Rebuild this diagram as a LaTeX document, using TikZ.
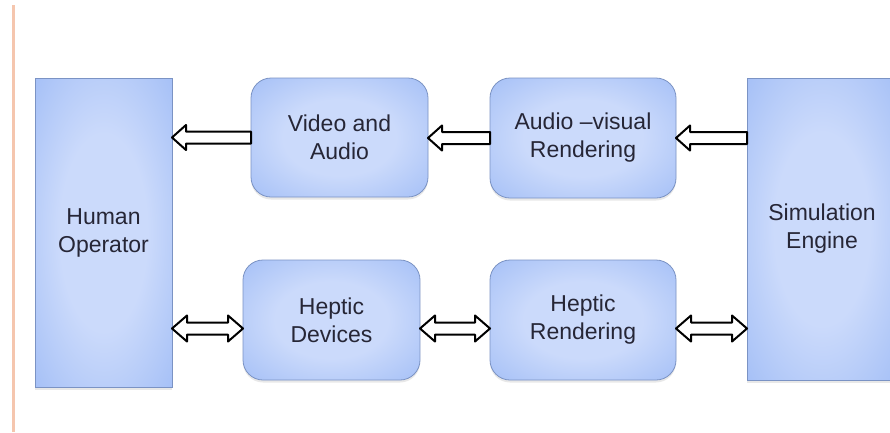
\documentclass[tikz,border=0pt]{standalone}
\usepackage{fontspec}
\setmainfont{Liberation Sans}
\usetikzlibrary{calc,shadows}
\definecolor{glowin}{HTML}{CBDAFB}
\definecolor{glowout}{HTML}{8AADF3}
\definecolor{boxline}{HTML}{7B93C4}
\definecolor{txt}{HTML}{262636}
\definecolor{edge}{HTML}{F5C6AE}
\pgfdeclareradialshading{boxglow}{\pgfpoint{0bp}{0bp}}{color(0bp)=(glowin); color(16bp)=(glowin); color(50bp)=(glowout); color(72bp)=(glowout)}
\tikzset{
  blk/.style={draw=boxline, line width=0.8pt, shading=boxglow, outer sep=0pt,
    inner sep=0pt, align=center, text=txt,
    font=\fontsize{23}{28}\selectfont,
    drop shadow={opacity=0.18, shadow xshift=0pt, shadow yshift=-2.5pt}},
  rblk/.style={blk, rounded corners=20pt},
  hollowL/.style={draw=black, line width=2pt, fill=white, line join=round,
    to path={let \p1=(\tikztostart), \p2=(\tikztotarget) in
      (\x1,\y1+6pt) -- (\x2+14pt,\y1+6pt) -- (\x2+14pt,\y1+12.5pt) -- (\x2,\y1)
      -- (\x2+14pt,\y1-12.5pt) -- (\x2+14pt,\y1-6pt) -- (\x1,\y1-6pt) -- cycle}},
  hollowD/.style={draw=black, line width=2pt, fill=white, line join=round,
    to path={let \p1=(\tikztostart), \p2=(\tikztotarget) in
      (\x1,\y1) -- (\x1+15pt,\y1+13pt) -- (\x1+15pt,\y1+6pt) -- (\x2-15pt,\y1+6pt)
      -- (\x2-15pt,\y1+13pt) -- (\x2,\y1) -- (\x2-15pt,\y1-13pt) -- (\x2-15pt,\y1-6pt)
      -- (\x1+15pt,\y1-6pt) -- (\x1+15pt,\y1-13pt) -- cycle}}
}
\begin{document}
\begin{tikzpicture}[x=1pt,y=-1pt]
\useasboundingbox[fill=white] (0,0) rectangle (890,432);
\draw[edge, line width=3pt] (13,5) -- (13,432);

\node[blk, minimum width=137pt, minimum height=309pt] (hum) at (103.5,232.5) {Human\\Operator};
\node[blk, minimum width=150pt, minimum height=302pt] (sim) at (822,229) {Simulation\\Engine};
\node[rblk, minimum width=177pt, minimum height=119pt] (vid) at (339.5,137.5) {Video and\\Audio};
\node[rblk, minimum width=186pt, minimum height=120pt] (av) at (583,138) {Audio --visual\\Rendering};
\node[rblk, minimum width=177pt, minimum height=120pt] (hd) at (331.5,320) {Heptic\\Devices};
\node[rblk, minimum width=186pt, minimum height=120pt] (hr) at (583,320) {Heptic\\Rendering};

\coordinate (hdl) at ([yshift=-8.5pt]hd.west);
\coordinate (hdr) at ([yshift=-8.5pt]hd.east);
\coordinate (hrr) at ([yshift=-8.5pt]hr.east);

\path[hollowL] (vid.west) to (hum.east);
\path[hollowL] (av.west) to (vid.east);
\path[hollowL] (sim.west |- av.east) to (av.east);
\path[hollowD] (hum.east |- hdl) to (hdl);
\path[hollowD] (hdr) to (hr.west);
\path[hollowD] (hrr) to (sim.west);
\end{tikzpicture}
\end{document}
